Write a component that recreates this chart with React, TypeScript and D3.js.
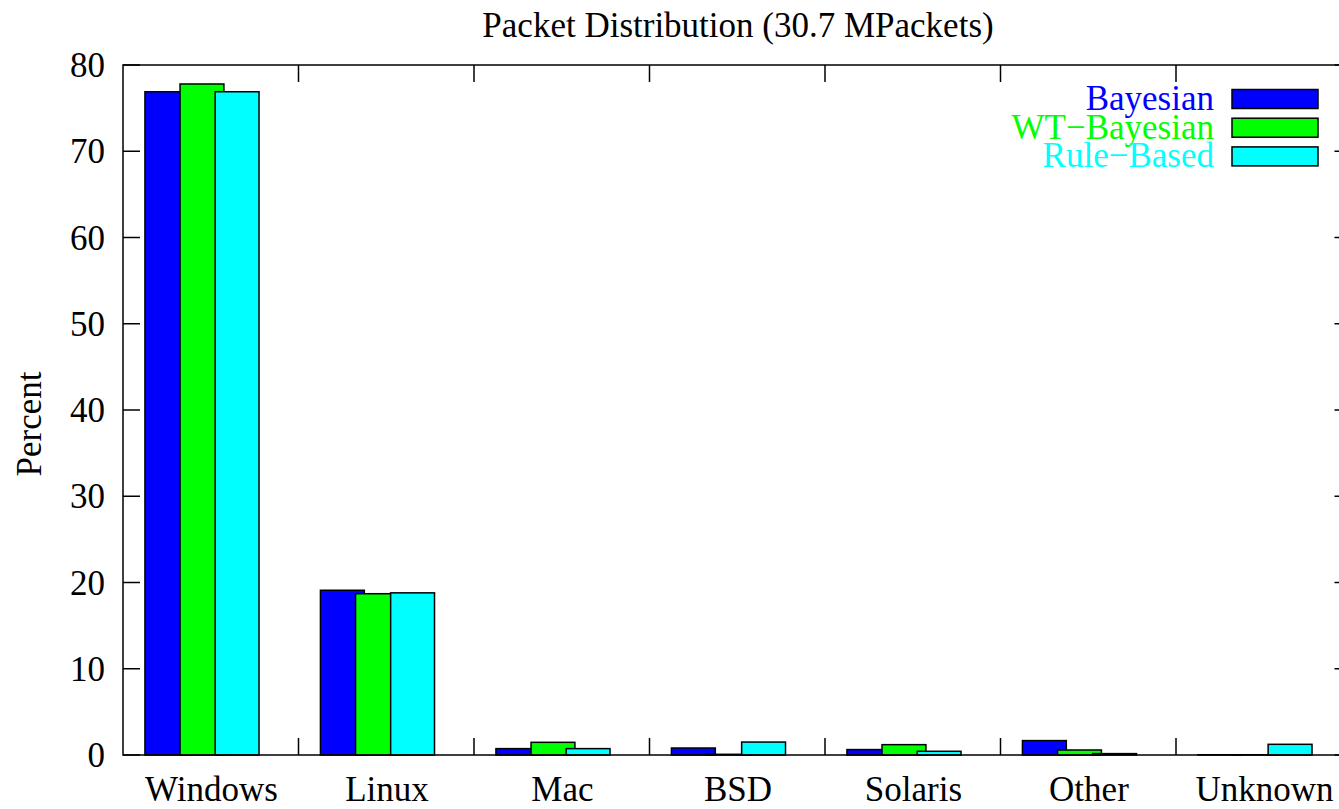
import * as d3 from "d3";

const categories = ["Windows", "Linux", "Mac", "BSD", "Solaris", "Other", "Unknown"];
const seriesNames = ["Bayesian", "WT\u2212Bayesian", "Rule\u2212Based"];
const seriesColors = ["#0000ff", "#00ff00", "#00ffff"];
const bayesian = [76.9, 19.1, 0.74, 0.81, 0.63, 1.67, 0.03];
const wtBayesian = [77.8, 18.7, 1.47, 0.08, 1.2, 0.58, 0.03];
const ruleBased = [76.9, 18.8, 0.74, 1.5, 0.43, 0.16, 1.24];
const yTicks = [0, 10, 20, 30, 40, 50, 60, 70, 80];

const width = 1339;
const height = 809;
const marginLeft = 123;
const plotRight = 1351.5;
const marginTop = 65;
const plotBottom = 755;
const font = "'Liberation Serif', 'Times New Roman', serif";

export default function App() {
  const series = [bayesian, wtBayesian, ruleBased];

  const x = d3.scaleLinear().domain([-0.45, 6.55]).range([marginLeft, plotRight]);
  const y = d3.scaleLinear().domain([0, 80]).range([plotBottom, marginTop]);

  const barW = x(0.25) - x(0);
  const offsets = [-0.2, 0, 0.2];
  const xTicks = d3.range(0, 6).map((i) => i + 0.55);
  const tickLen = 17;

  return (
    <svg
      width={width}
      height={height}
      style={{ position: "absolute", left: 0, top: 0, background: "#fff" }}
      fontFamily={font}
    >
      <text x={738} y={37} fontSize={35} textAnchor="middle">
        Packet Distribution (30.7 MPackets)
      </text>

      {/* bars */}
      {series.map((vals, s) =>
        vals.map((v, i) => (
          <rect
            key={`${s}-${i}`}
            x={x(i + offsets[s]) - barW / 2}
            y={y(v)}
            width={barW}
            height={y(0) - y(v)}
            fill={seriesColors[s]}
            stroke="#000"
            strokeWidth={1.5}
          />
        ))
      )}

      {/* border */}
      <rect
        x={marginLeft}
        y={marginTop}
        width={plotRight - marginLeft}
        height={plotBottom - marginTop}
        fill="none"
        stroke="#000"
        strokeWidth={1.5}
      />

      {/* y ticks */}
      {yTicks.map((t) => (
        <g key={t}>
          <line x1={marginLeft} x2={marginLeft + tickLen} y1={y(t)} y2={y(t)} stroke="#000" strokeWidth={1.5} />
          <line x1={plotRight - tickLen} x2={plotRight} y1={y(t)} y2={y(t)} stroke="#000" strokeWidth={1.5} />
          <text x={105} y={y(t) + 12} fontSize={35} textAnchor="end">
            {t}
          </text>
        </g>
      ))}

      {/* x ticks */}
      {xTicks.map((t) => (
        <g key={t}>
          <line x1={x(t)} x2={x(t)} y1={marginTop} y2={marginTop + tickLen} stroke="#000" strokeWidth={1.5} />
          <line x1={x(t)} x2={x(t)} y1={plotBottom - tickLen} y2={plotBottom} stroke="#000" strokeWidth={1.5} />
        </g>
      ))}
      {categories.map((c, i) => (
        <text key={c} x={x(i + 0.054)} y={801} fontSize={35} textAnchor="middle">
          {c}
        </text>
      ))}

      <text transform="translate(41,424) rotate(-90)" fontSize={35} textAnchor="middle">
        Percent
      </text>

      {/* legend */}
      {seriesNames.map((n, s) => {
        const cy = 99 + s * 28.7;
        return (
          <g key={n}>
            <text x={1214} y={cy + 11} fontSize={35} textAnchor="end" fill={seriesColors[s]}>
              {n}
            </text>
            <rect x={1232} y={cy - 9.5} width={86} height={19} fill={seriesColors[s]} stroke="#000" strokeWidth={1.5} />
          </g>
        );
      })}
    </svg>
  );
}
